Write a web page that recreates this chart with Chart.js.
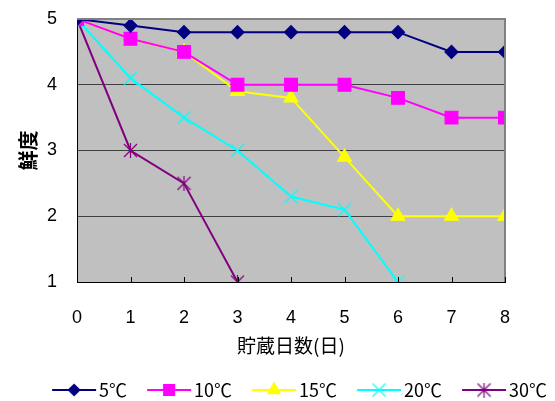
<!DOCTYPE html>
<html>
<head>
<meta charset="utf-8">
<script src="https://cdn.jsdelivr.net/npm/chart.js@4"></script>
<style>
  html, body { margin: 0; padding: 0; background: #fff; }
  #wrap { width: 555px; height: 401px; }
</style>
</head>
<body>
<div id="wrap"><canvas id="chart" width="555" height="401"></canvas></div>
<script>
// データ
const days = [0, 1, 2, 3, 4, 5, 6, 7, 8];
const seriesNames = ['5℃', '10℃', '15℃', '20℃', '30℃'];
const temp5 = [5, 4.9, 4.8, 4.8, 4.8, 4.8, 4.8, 4.5, 4.5];
const temp10 = [5, 4.7, 4.5, 4.0, 4.0, 4.0, 3.8, 3.5, 3.5];
const temp15 = [5, 4.7, 4.5, 3.9, 3.8, 2.9, 2.0, 2.0, 2.0];
const temp20 = [5, 4.1, 3.5, 3.0, 2.3, 2.1, 1.0];
const temp30 = [5, 3.0, 2.5, 1.0];
const yTicks = [1, 2, 3, 4, 5];

const FONT = '"Liberation Sans", "Noto Sans CJK JP", sans-serif';
const JP_FONT = '"Noto Sans CJK JP", sans-serif';

// 細い × と * のマーカー (Excel風)
function lineMarker(color, size, withBar) {
    const c = document.createElement('canvas');
    c.width = size;
    c.height = size;
    const g = c.getContext('2d');
    g.strokeStyle = color;
    g.lineWidth = 1.2;
    g.beginPath();
    g.moveTo(1, 1);
    g.lineTo(size - 1, size - 1);
    g.moveTo(size - 1, 1);
    g.lineTo(1, size - 1);
    if (withBar) {
        g.moveTo(size / 2, 0);
        g.lineTo(size / 2, size);
    }
    g.stroke();
    return c;
}

const styles = [
    { color: '#000080', point: 'rectRot', radius: 6.5 },
    { color: '#ff00ff', point: 'rect', radius: 9 },
    { color: '#ffff00', point: 'triangle', radius: 8 },
    { color: '#00ffff', point: lineMarker('#00ffff', 15, false), radius: 7 },
    { color: '#800080', point: lineMarker('#800080', 15, true), radius: 7 }
];
const allSeries = [temp5, temp10, temp15, temp20, temp30];

const LEGEND_BOX = 50;

function toPoints(values) {
    return values.map((v, i) => ({ x: days[i], y: v }));
}

// 凡例用の線＋マーカー画像 (箱の中心に描かれるので右寄せで描く)
function legendImage(st) {
    const c = document.createElement('canvas');
    c.width = 64;
    c.height = 18;
    const g = c.getContext('2d');
    g.strokeStyle = st.color;
    g.fillStyle = st.color;
    g.lineWidth = 2;
    g.beginPath();
    g.moveTo(19, 9);
    g.lineTo(63, 9);
    g.stroke();
    Chart.helpers.drawPoint(g, {
        pointStyle: st.point,
        radius: st.radius * 0.8,
        rotation: 0,
        borderWidth: 1
    }, 41, 9);
    return c;
}

const datasets = allSeries.map((vals, i) => ({
    label: seriesNames[i],
    data: toPoints(vals),
    borderColor: styles[i].color,
    backgroundColor: styles[i].color,
    borderWidth: 2,
    pointStyle: styles[i].point,
    pointRadius: styles[i].radius,
    pointBorderWidth: 1.2,
    pointHoverRadius: styles[i].radius,
    tension: 0
}));

// プロットエリアの背景・枠・内向き目盛り
const plotArea = {
    id: 'plotArea',
    beforeDraw(chart) {
        const a = chart.chartArea;
        const ctx = chart.ctx;
        ctx.save();
        ctx.fillStyle = '#c0c0c0';
        ctx.fillRect(a.left, a.top, a.right - a.left, a.bottom - a.top);
        ctx.restore();
    },
    afterDatasetsDraw(chart) {
        const a = chart.chartArea;
        const ctx = chart.ctx;
        const xs = chart.scales.x;
        ctx.save();
        ctx.strokeStyle = '#808080';
        ctx.lineWidth = 2;
        ctx.beginPath();
        ctx.moveTo(a.left, a.top);
        ctx.lineTo(a.right, a.top);
        ctx.lineTo(a.right, a.bottom);
        ctx.stroke();
        ctx.strokeStyle = '#000';
        ctx.lineWidth = 1;
        ctx.beginPath();
        xs.ticks.forEach(t => {
            const px = Math.round(xs.getPixelForValue(t.value)) + 0.5;
            ctx.moveTo(px, a.bottom);
            ctx.lineTo(px, a.bottom - 5);
        });
        ctx.stroke();
        ctx.restore();
    }
};

const ctx = document.getElementById('chart').getContext('2d');
new Chart(ctx, {
    type: 'line',
    data: { datasets: datasets },
    options: {
        responsive: false,
        animation: false,
        layout: {
            padding: { left: 0, right: 0, top: 19, bottom: -8 }
        },
        scales: {
            x: {
                type: 'linear',
                min: 0,
                max: 8,
                afterFit(scale) {
                    scale.height = 91;
                },
                ticks: {
                    stepSize: 1,
                    color: '#000',
                    font: { family: FONT, size: 18 },
                    padding: 5
                },
                grid: {
                    display: true,
                    drawOnChartArea: false,
                    drawTicks: true,
                    tickLength: 20,
                    tickColor: 'transparent'
                },
                border: { display: true, color: '#000', width: 1 },
                title: {
                    display: true,
                    text: '貯蔵日数(日)',
                    color: '#000',
                    font: { family: JP_FONT, size: 19 },
                    padding: { top: 0, bottom: 16 }
                }
            },
            y: {
                min: 1,
                max: 5,
                afterBuildTicks(scale) {
                    scale.ticks = yTicks.map(v => ({ value: v }));
                },
                afterFit(scale) {
                    scale.width = 77;
                },
                ticks: {
                    color: '#000',
                    font: { family: FONT, size: 18 },
                    padding: 4
                },
                grid: {
                    drawTicks: true,
                    tickLength: 16,
                    tickColor: 'transparent',
                    color: c => c.tick && c.tick.value === 5 ? '#808080' : '#404040'
                },
                border: { display: true, color: '#000', width: 1 },
                title: {
                    display: true,
                    text: '鮮度',
                    color: '#000',
                    font: { family: JP_FONT, size: 20, weight: 'bold' },
                    padding: { top: 16, bottom: 0 }
                }
            },
            // 右側の余白用 (表示なし)
            yRight: {
                position: 'right',
                afterFit(scale) {
                    scale.width = 50;
                },
                ticks: { display: false },
                grid: { display: false, drawTicks: false },
                border: { display: false }
            }
        },
        plugins: {
            legend: {
                position: 'bottom',
                align: 'end',
                labels: {
                    usePointStyle: true,
                    pointStyleWidth: LEGEND_BOX,
                    padding: 8,
                    color: '#000',
                    font: { family: JP_FONT, size: 18 },
                    generateLabels(chart) {
                        return chart.data.datasets.map((ds, i) => ({
                            text: ds.label,
                            pointStyle: legendImage(styles[i]),
                            fillStyle: styles[i].color,
                            strokeStyle: styles[i].color,
                            lineWidth: 0,
                            hidden: false,
                            datasetIndex: i
                        }));
                    }
                }
            },
            tooltip: { enabled: false }
        }
    },
    plugins: [plotArea]
});
</script>
</body>
</html>
